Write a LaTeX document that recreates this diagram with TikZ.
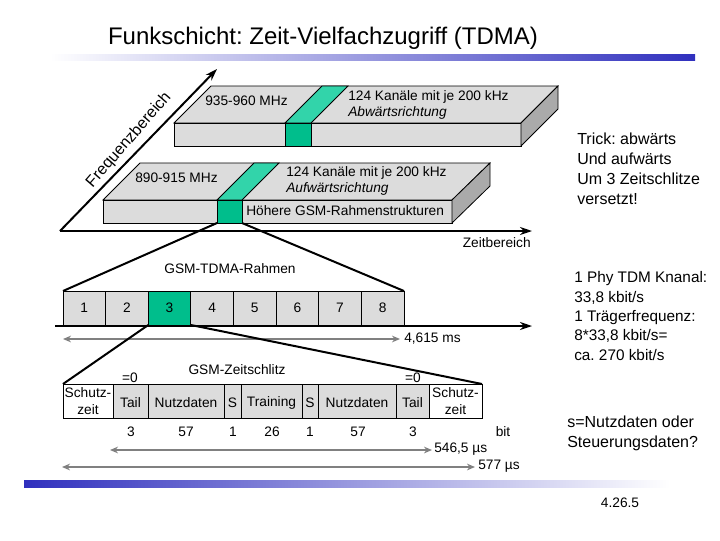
\documentclass[tikz,border=0pt]{standalone}
\usepackage{fontspec}
\setmainfont{Liberation Sans}
\usetikzlibrary{arrows.meta}
\definecolor{tblue}{RGB}{48,48,190}
\definecolor{lgray}{RGB}{220,220,220}
\definecolor{sgray}{RGB}{170,170,170}
\definecolor{gfront}{RGB}{0,190,140}
\definecolor{gtop}{RGB}{50,212,170}
\definecolor{agray}{RGB}{128,128,128}
\frenchspacing
\begin{document}
\begin{tikzpicture}[x=0.75pt,y=-0.75pt,
  lbl/.style={font=\fontsize{10.3}{12}\selectfont, inner sep=0pt},
  ilbl/.style={lbl, font=\fontsize{10.3}{12}\selectfont\itshape},
  big/.style={font=\fontsize{12}{15}\selectfont, inner sep=0pt, align=left},
  face/.style={draw=black, line width=0.6pt, fill=lgray},
  side/.style={draw=black, line width=0.6pt, fill=sgray},
  gf/.style={draw=black, line width=0.6pt, fill=gfront},
  gt/.style={draw=black, line width=0.6pt, fill=gtop},
  axis/.style={line width=1.5pt, -{Stealth[length=9pt,width=6pt]}},
  fan/.style={line width=1.5pt},
  garrow/.style={line width=1.5pt, draw=agray, {Stealth[length=6pt,width=5pt]}-{Stealth[length=6pt,width=5pt]}},
  cell/.style={draw=black, line width=0.6pt}
]
\useasboundingbox (0,0) rectangle (720,540);

% title and bars
\node[font=\fontsize{18}{20}\selectfont, inner sep=0pt] (title) at (323,38) {Funkschicht: Zeit-Vielfachzugriff (TDMA)};
\shade[left color=white, right color=tblue] (50,54) rectangle (695,60);
\shade[left color=tblue, right color=white] (24,480) rectangle (670,487);

% axes
\coordinate (o) at (60,231);
\coordinate (fe) at (217,69);
\coordinate (te) at (532,231);
\draw[axis] (o) -- (fe);
\node[font=\fontsize{12}{14}\selectfont, inner sep=0pt, rotate=49] (fb) at (129,140) {Frequenzbereich};

% upper slab (Abwaerts)
\filldraw[face] (174,123) -- (521,123) -- (558,86) -- (211,86) -- cycle;
\filldraw[gt] (285,123) -- (311,123) -- (348,86) -- (322,86) -- cycle;
\filldraw[face] (174,123) rectangle (521,146);
\filldraw[gf] (285,123) rectangle (311,146);
\filldraw[side] (521,123) -- (558,86) -- (558,109) -- (521,146) -- cycle;
\node[lbl, anchor=west] (f1) at (205,101) {935-960 MHz};
\node[lbl, anchor=west] (k1) at (348,97) {124 Kanäle mit je 200 kHz};
\node[ilbl, anchor=west] (a1) at (348,113) {Abwärtsrichtung};

% lower slab (Aufwaerts)
\filldraw[face] (103,200) -- (452,200) -- (490,163) -- (140,163) -- cycle;
\filldraw[gt] (217,200) -- (242,200) -- (279,163) -- (254,163) -- cycle;
\filldraw[face] (103,200) rectangle (452,223);
\filldraw[gf] (217,200) rectangle (242,223);
\filldraw[side] (452,200) -- (490,163) -- (490,186) -- (452,223) -- cycle;
\node[lbl, anchor=west] (f2) at (135,178) {890-915 MHz};
\node[lbl, anchor=west] (k2) at (286,173) {124 Kanäle mit je 200 kHz};
\node[ilbl, anchor=west] (a2) at (286,189) {Aufwärtsrichtung};
\node[lbl, anchor=west] (h2) at (246,211) {Höhere GSM-Rahmenstrukturen};

\draw[axis] (o) -- (te);
\node[lbl, anchor=east] (zb) at (531,243) {Zeitbereich};

% fan to TDMA frame
\coordinate (gl) at (217,223);
\coordinate (gr) at (242,223);
\coordinate (ftl) at (63,291);
\coordinate (ftr) at (404,291);
\draw[fan] (gl) -- (ftl);
\draw[fan] (gr) -- (ftr);
\node[lbl] (tdma) at (230,269) {GSM-TDMA-Rahmen};

% TDMA frame boxes
\foreach \i in {1,...,8} {
  \pgfmathsetmacro{\xa}{63+(\i-1)*42.625}
  \pgfmathsetmacro{\xb}{63+\i*42.625}
  \ifnum\i=3
    \filldraw[gf] (\xa,291) rectangle (\xb,325);
  \else
    \filldraw[face] (\xa,291) rectangle (\xb,325);
  \fi
  \node[lbl] (b\i) at ({(\xa+\xb)/2},308) {\i};
}
\draw[axis] (55,326) -- (532,326);
\coordinate (g1) at (63,339);
\coordinate (g2) at (400,339);
\draw[garrow] (g1) -- (g2);
\node[lbl, anchor=west] (t1) at (404,339) {4,615 ms};

% fan to time slot
\coordinate (s3l) at (148.25,325);
\coordinate (s3r) at (190.875,325);
\coordinate (stl) at (63,384);
\coordinate (str) at (482,384);
\draw[fan] (s3l) -- (stl);
\draw[fan] (s3r) -- (str);
\node[lbl] (zs) at (237,370) {GSM-Zeitschlitz};

% time slot cells
\filldraw[cell, fill=white] (63,384) rectangle (113,418);
\filldraw[cell, fill=lgray] (113,384) rectangle (148,418);
\filldraw[cell, fill=lgray] (148,384) rectangle (224,418);
\filldraw[cell, fill=lgray] (224,384) rectangle (241,418);
\filldraw[cell, fill=lgray] (241,384) rectangle (302,418);
\filldraw[cell, fill=lgray] (302,384) rectangle (318,418);
\filldraw[cell, fill=lgray] (318,384) rectangle (396,418);
\filldraw[cell, fill=lgray] (396,384) rectangle (429,418);
\filldraw[cell, fill=white] (429,384) rectangle (482,418);
\node[lbl, align=center, font=\fontsize{10.3}{12.5}\selectfont] (c1) at (88,401) {Schutz-\\zeit};
\node[lbl] (c2) at (130.5,403) {Tail};
\node[lbl] (c3) at (186,403) {Nutzdaten};
\node[lbl] (c4) at (232.5,403) {S};
\node[lbl] (c5) at (271.5,403) {Training};
\node[lbl] (c6) at (310,403) {S};
\node[lbl] (c7) at (357,403) {Nutzdaten};
\node[lbl] (c8) at (412.5,403) {Tail};
\node[lbl, align=center, font=\fontsize{10.3}{12.5}\selectfont] (c9) at (455.5,401) {Schutz-\\zeit};
\node[lbl] (z1) at (130,378) {=0};
\node[lbl] (z2) at (413,378) {=0};

% bit counts
\node[lbl] (n1) at (131,432) {3};
\node[lbl] (n2) at (186,432) {57};
\node[lbl] (n3) at (233,432) {1};
\node[lbl] (n4) at (272,432) {26};
\node[lbl] (n5) at (310,432) {1};
\node[lbl] (n6) at (358,432) {57};
\node[lbl] (n7) at (413,432) {3};
\node[lbl] (nb) at (503,432) {bit};

% durations
\coordinate (d1a) at (110,450);
\coordinate (d1b) at (432,450);
\draw[garrow] (d1a) -- (d1b);
\node[lbl, anchor=west] (t2) at (434,449) {546,5 µs};
\coordinate (d2a) at (62,467);
\coordinate (d2b) at (475,467);
\draw[garrow] (d2a) -- (d2b);
\node[lbl, anchor=west] (t3) at (478,466) {577 µs};

% side notes
\node[big, anchor=west] (trick) at (577,169) {Trick: abwärts\\Und aufwärts\\Um 3 Zeitschlitze\\versetzt!};
\node[big, anchor=west, font=\fontsize{11.5}{14.6}\selectfont] (phy) at (574,316) {1 Phy TDM Knanal:\\33,8 kbit/s\\1 Trägerfrequenz:\\8*33,8 kbit/s=\\ca. 270 kbit/s};
\node[big, anchor=west] (snote) at (567,433) {s=Nutzdaten oder\\Steuerungsdaten?};
\node[lbl] (pg) at (620,503) {4.26.5};
\end{tikzpicture}
\end{document}
